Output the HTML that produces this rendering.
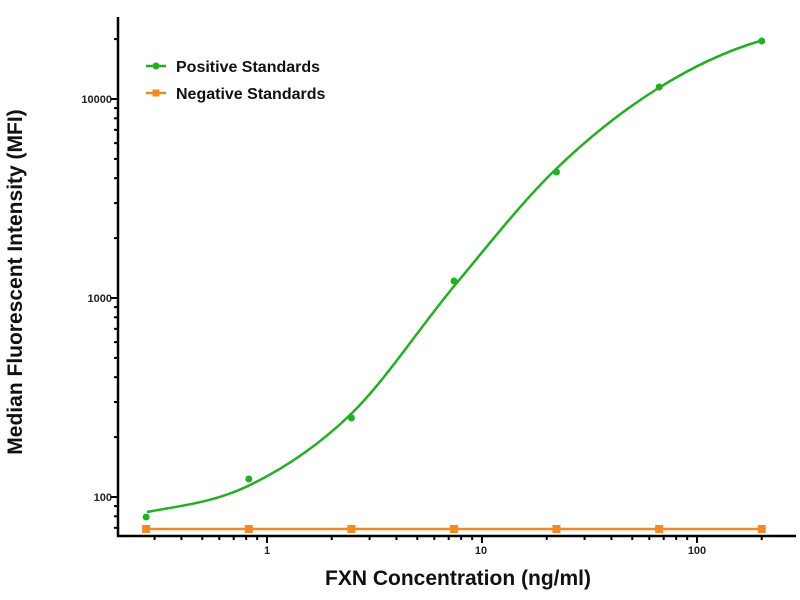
<!DOCTYPE html>
<html><head><style>body{margin:0;background:#fff}svg{display:block}text{font-family:"Liberation Sans",Arial,sans-serif}</style></head>
<body>
<svg id="s" width="800" height="600" xmlns="http://www.w3.org/2000/svg">
<g stroke="#000" stroke-width="2.5" fill="none">
<line x1="118" y1="17" x2="118" y2="537"/>
<line x1="117" y1="536" x2="796" y2="536"/>
</g>
<g id="ticks" stroke="#000" stroke-width="2"></g>
<g font-size="11" font-weight="bold" fill="#222">
<text x="112" y="501" text-anchor="end">100</text>
<text x="112" y="302" text-anchor="end">1000</text>
<text x="112" y="103" text-anchor="end">10000</text>
<text x="267" y="554" text-anchor="middle">1</text>
<text x="481" y="554" text-anchor="middle">10</text>
<text x="697" y="554" text-anchor="middle">100</text>
</g>
<text x="458" y="585" font-size="21" font-weight="bold" text-anchor="middle" fill="#111">FXN Concentration (ng/ml)</text>
<text transform="translate(22,282) rotate(-90)" font-size="21" font-weight="bold" text-anchor="middle" fill="#111">Median Fluorescent Intensity (MFI)</text>
<line x1="147" y1="529" x2="760" y2="529" stroke="#f08a24" stroke-width="2.5"/>
<g id="neg" fill="#f08a24"></g>
<path id="curve" fill="none" stroke="#22b022" stroke-width="2.5"/>
<g id="pos" fill="#22b022"></g>
<line x1="146" y1="66" x2="166" y2="66" stroke="#22b022" stroke-width="2.5"/><circle cx="156" cy="66" r="3.5" fill="#22b022"/>
<line x1="146" y1="93" x2="166" y2="93" stroke="#f08a24" stroke-width="2.5"/><rect x="152.5" y="89.5" width="7" height="7" fill="#f08a24"/>
<text x="176" y="72" font-size="16" font-weight="bold" fill="#111">Positive Standards</text>
<text x="176" y="99" font-size="16" font-weight="bold" fill="#111">Negative Standards</text>
</svg>
<script>
var X=function(v){return 267+Math.log10(v)*215},Y=function(v){return 497-(Math.log10(v)-2)*199};
var t=document.getElementById('ticks'),h='';
for(var d=-1;d<=2;d++)for(var k=1;k<10;k++){var v=k*Math.pow(10,d);if(v<0.27||v>210)continue;var x=X(v);h+='<line x1="'+x+'" y1="536" x2="'+x+'" y2="'+(k==1?543:540)+'"/>';}
for(var d=1;d<=4;d++)for(var k=1;k<10;k++){var v=k*Math.pow(10,d);if(v<64||v>25000)continue;var y=Y(v);h+='<line x1="118" y1="'+y+'" x2="'+(k==1?111:114)+'" y2="'+y+'"/>';}
t.innerHTML=h;
var xs=[0.274,0.823,2.47,7.41,22.2,66.7,200];
var n='';xs.forEach(function(v){n+='<rect x="'+(X(v)-4)+'" y="525" width="8" height="8"/>';});
document.getElementById('neg').innerHTML=n;
var py=[517,479,418,281,172,87,41],p='';
xs.forEach(function(v,i){p+='<circle cx="'+X(v)+'" cy="'+py[i]+'" r="3.5"/>';});
document.getElementById('pos').innerHTML=p;
var P=[[147,512],[248,486],[351,414],[455,285],[555,170],[657,89],[760,41]];
var d='M'+P[0][0]+','+P[0][1];
for(var i=0;i<P.length-1;i++){var p0=P[Math.max(i-1,0)],p1=P[i],p2=P[i+1],p3=P[Math.min(i+2,P.length-1)];
if(i==0)p0=[p1[0]-100,p1[1]+12];
if(i==P.length-2)p3=[p2[0]+100,p2[1]-12];
d+=' C'+(p1[0]+(p2[0]-p0[0])/6)+','+(p1[1]+(p2[1]-p0[1])/6)+' '+(p2[0]-(p3[0]-p1[0])/6)+','+(p2[1]-(p3[1]-p1[1])/6)+' '+p2[0]+','+p2[1];}
document.getElementById('curve').setAttribute('d',d);
</script>
</body></html>
